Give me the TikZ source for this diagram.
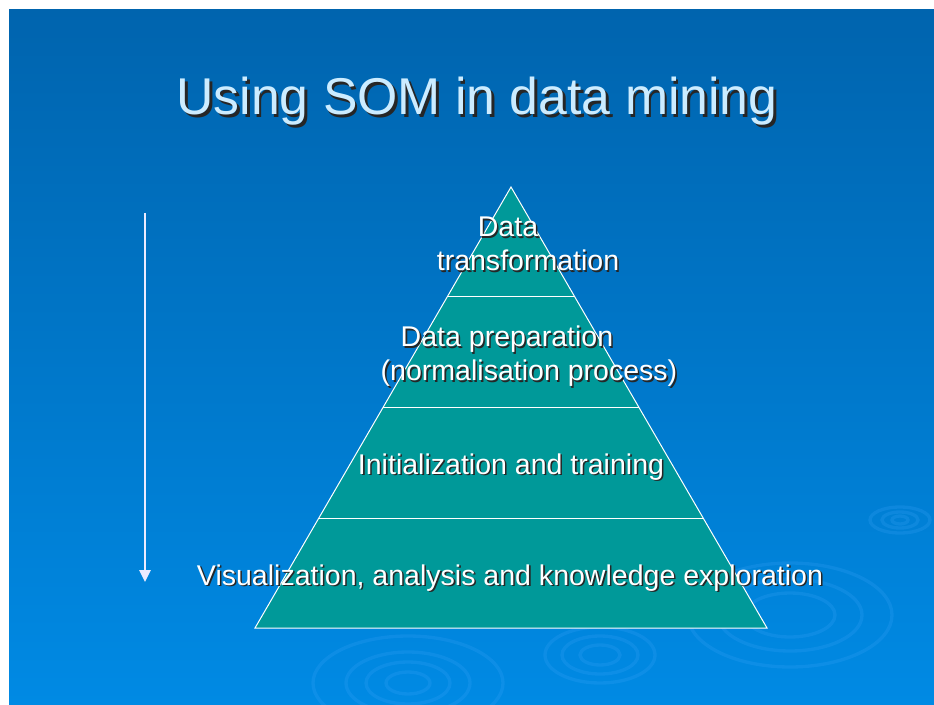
\documentclass[tikz,border=0pt]{standalone}
\usepackage{fontspec}
\setmainfont{Liberation Sans}
\usetikzlibrary{arrows.meta}

\definecolor{slidetop}{RGB}{0,100,174}
\definecolor{slidebot}{RGB}{0,138,228}
\definecolor{layerteal}{RGB}{0,153,153}
\definecolor{titleblue}{RGB}{204,236,255}
\definecolor{ripplecol}{RGB}{60,165,250}

% text with a small dark drop shadow
\newcommand{\shtxt}[2][1.2pt]{\leavevmode\rlap{\kern#1\raisebox{-#1}{\color{black!85}#2}}#2}

\tikzset{every picture/.style={line width=0.75pt}}
\tikzset{
  layertext/.style={anchor=base,inner sep=0.75pt,text=white,font=\fontsize{21.4}{26}\selectfont},
  titletext/.style={anchor=base,inner sep=0.75pt,text=titleblue,font=\fontsize{38.8}{46}\selectfont},
  ripple/.style={draw=ripplecol,opacity=0.22,line width=2.5pt},
  flowarrow/.style={draw=white!92!blue,line width=1.2pt,-{Triangle[width=8.5pt,length=9pt]}}
}

\begin{document}
\begin{tikzpicture}[x=0.75pt,y=0.75pt,yscale=-1,xscale=1]
    \useasboundingbox (0,0) rectangle (934,705);
    \fill[white] (0,0) rectangle (934,705);
    %Shape: Rectangle [slide background]
    \shade[top color=slidetop,bottom color=slidebot] (9,10) rectangle (934,705);
    %Shape: Ellipses [ripples]
    \draw[ripple] (900,520) ellipse (8 and 4);
    \draw[ripple] (900,520) ellipse (18 and 8);
    \draw[ripple] (900,520) ellipse (30 and 13);
    \draw[ripple] (790,615) ellipse (45 and 22);
    \draw[ripple] (790,615) ellipse (72 and 36);
    \draw[ripple] (790,615) ellipse (102 and 52);
    \draw[ripple] (408,683) ellipse (22 and 11);
    \draw[ripple] (408,683) ellipse (42 and 21);
    \draw[ripple] (408,683) ellipse (62 and 31);
    \draw[ripple] (408,683) ellipse (95 and 47);
    \draw[ripple] (600,655) ellipse (20 and 10);
    \draw[ripple] (600,655) ellipse (38 and 19);
    \draw[ripple] (600,655) ellipse (55 and 28);
    %Shape: Triangle [pyramid]
    \coordinate (apex) at (511,187);
    \coordinate (baseL) at (255,628);
    \coordinate (baseR) at (767,628);
    \draw[white,fill=layerteal] (apex) -- (baseL) -- (baseR) -- cycle;
    %Straight Lines [layer borders]
    \coordinate (l1L) at (447,297);   \coordinate (l1R) at (575,297);
    \coordinate (l2L) at (383,407);   \coordinate (l2R) at (639,407);
    \coordinate (l3L) at (319,518);   \coordinate (l3R) at (703,518);
    \draw[white] (l1L) -- (l1R);
    \draw[white] (l2L) -- (l2R);
    \draw[white] (l3L) -- (l3R);
    %Straight Lines [arrow]
    \coordinate (arrtop) at (145,213);
    \coordinate (arrbot) at (145,582);
    \draw[flowarrow] (arrtop) -- (arrbot);
    % Text Node
    \node[titletext] (title) at (477,115) {\shtxt[2pt]{Using SOM in data mining}};
    % Text Node
    \node[layertext] (transA) at (508,237) {\shtxt{Data}};
    \node[layertext] (transB) at (528,271) {\shtxt{transformation}};
    % Text Node
    \node[layertext] (prepA) at (507,347) {\shtxt{Data preparation}};
    \node[layertext] (prepB) at (529,381) {\shtxt{(normalisation process)}};
    % Text Node
    \node[layertext] (train) at (511,474) {\shtxt{Initialization and training}};
    % Text Node
    \node[layertext] (visu) at (510,585) {\shtxt{Visualization, analysis and knowledge exploration}};
\end{tikzpicture}
\end{document}
